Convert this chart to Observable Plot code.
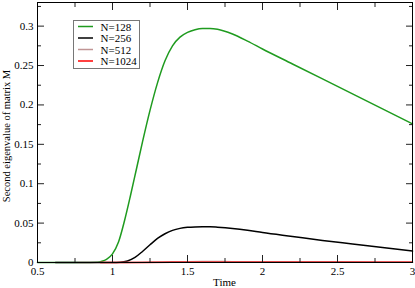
<!DOCTYPE html>
<html><head><meta charset="utf-8">
<script src="https://cdn.jsdelivr.net/npm/d3@7"></script>
<script src="https://cdn.jsdelivr.net/npm/@observablehq/plot@0.6"></script>
<style>
body{margin:0;background:#fff}
#chart{position:relative;width:415px;height:288px}
#chart svg, #chart svg text{font-family:"Liberation Serif", serif}
</style>
</head><body><div id="chart"></div>
<script>
// ---- data ----
const seriesNames = ["N=128", "N=256", "N=512", "N=1024"];
const seriesColors = ["#1f9b1f", "#000000", "#c09595", "#ff0000"];

const t128 = [0.5, 0.6, 0.7, 0.8, 0.9, 0.93, 0.96, 1.0, 1.04, 1.08, 1.12, 1.16, 1.2, 1.25, 1.3, 1.35, 1.4, 1.45, 1.5, 1.55, 1.6, 1.65, 1.7, 1.8, 1.9, 2.0, 2.2, 2.4, 2.6, 2.8, 3.0];
const v128 = [0, 0, 0, 0, 0.0003, 0.0015, 0.004, 0.011, 0.026, 0.053, 0.085, 0.119, 0.153, 0.193, 0.228, 0.256, 0.275, 0.286, 0.292, 0.2955, 0.297, 0.297, 0.296, 0.29, 0.281, 0.271, 0.252, 0.233, 0.214, 0.195, 0.176];

const t256 = [0.62, 0.7, 0.8, 0.9, 1.0, 1.05, 1.1, 1.15, 1.2, 1.25, 1.3, 1.35, 1.4, 1.45, 1.5, 1.55, 1.6, 1.65, 1.7, 1.8, 1.9, 2.0, 2.2, 2.4, 2.6, 2.8, 3.0];
const v256 = [0, 0, 0, 0, 0, 0.0003, 0.002, 0.0065, 0.014, 0.0225, 0.0305, 0.0365, 0.0408, 0.0433, 0.0446, 0.0452, 0.0454, 0.0453, 0.0448, 0.0433, 0.041, 0.038, 0.033, 0.028, 0.0235, 0.019, 0.0145];

const t512 = [0.77, 0.9, 1.0, 1.1, 1.2, 1.3, 1.4, 1.5, 1.6, 1.8, 2.0, 2.5, 3.0];
const v512 = [0, 0, 0, 0.0001, 0.0003, 0.0006, 0.0009, 0.0011, 0.0012, 0.0011, 0.001, 0.0008, 0.0006];

const t1024 = [0.92, 1.0, 1.2, 1.4, 1.6, 1.8, 2.0, 2.5, 3.0];
const v1024 = [0, 0, 0.0001, 0.0002, 0.0003, 0.0003, 0.0003, 0.0002, 0.0002];

const xTicks = [0.5, 1, 1.5, 2, 2.5, 3];
const xTickLabels = ["0.5", "1", "1.5", "2", "2.5", "3"];
const xMinorTicks = [0.75, 1.25, 1.75, 2.25, 2.75];
const yTicks = [0, 0.05, 0.1, 0.15, 0.2, 0.25, 0.3];
const yTickLabels = ["0", "0.05", "0.1", "0.15", "0.2", "0.25", "0.3"];
const yMinorTicks = [0.025, 0.075, 0.125, 0.175, 0.225, 0.275, 0.325];
const xLabel = "Time";
const yLabel = "Second eigenvalue of matrix M";

// ---- build table ----
const allT = [t128, t256, t512, t1024];
const allV = [v128, v256, v512, v1024];
const rows = [];
seriesNames.forEach((s, k) => allT[k].forEach((t, i) => rows.push({series: s, t, v: allV[k][i]})));

const font = "Liberation Serif, serif";
const tickColor = "#222";

const plot = Plot.plot({
  width: 415,
  height: 288,
  marginLeft: 37,
  marginRight: 3,
  marginTop: 2,
  marginBottom: 26,
  style: {fontFamily: font, fontSize: "11px", background: "#fff", color: "#000"},
  x: {domain: [0.5, 3]},
  y: {domain: [0, 0.33]},
  color: {domain: seriesNames, range: seriesColors},
  marks: [
    Plot.line(rows, {x: "t", y: "v", z: "series", stroke: "series", strokeWidth: 1.5, curve: "monotone-x"}),
    // labels
    Plot.axisX(xTicks, {anchor: "bottom", tickSize: 0, tickPadding: 5, tickFormat: d => xTickLabels[xTicks.indexOf(d)], label: null, fill: "#000"}),
    Plot.axisY(yTicks, {anchor: "left", tickSize: 0, tickPadding: 4, tickFormat: d => yTickLabels[yTicks.indexOf(d)], label: null, fill: "#000"}),
    // inward major ticks
    Plot.axisX(xTicks, {anchor: "bottom", tickSize: -7, tickFormat: () => "", label: null, stroke: tickColor}),
    Plot.axisX(xTicks, {anchor: "top", tickSize: -7, tickFormat: () => "", label: null, stroke: tickColor}),
    Plot.axisY(yTicks, {anchor: "left", tickSize: -7, tickFormat: () => "", label: null, stroke: tickColor}),
    Plot.axisY(yTicks, {anchor: "right", tickSize: -7, tickFormat: () => "", label: null, stroke: tickColor}),
    // inward minor ticks
    Plot.axisX(xMinorTicks, {anchor: "bottom", tickSize: -4, tickFormat: () => "", label: null, stroke: tickColor}),
    Plot.axisX(xMinorTicks, {anchor: "top", tickSize: -4, tickFormat: () => "", label: null, stroke: tickColor}),
    Plot.axisY(yMinorTicks, {anchor: "left", tickSize: -4, tickFormat: () => "", label: null, stroke: tickColor}),
    Plot.axisY(yMinorTicks, {anchor: "right", tickSize: -4, tickFormat: () => "", label: null, stroke: tickColor}),
    Plot.frame({stroke: "#000", strokeWidth: 1})
  ]
});
plot.setAttribute("font-family", font);

const svg = d3.select(plot);
// axis titles
svg.append("text")
  .attr("x", (37 + 412) / 2).attr("y", 286)
  .attr("text-anchor", "middle")
  .attr("font-family", font).attr("font-size", 11)
  .text(xLabel);
svg.append("text")
  .attr("transform", "translate(10,136) rotate(-90)")
  .attr("text-anchor", "middle")
  .attr("font-family", font).attr("font-size", 10.5)
  .text(yLabel);

// legend
const lg = svg.append("g").attr("transform", "translate(73,20)");
lg.append("rect").attr("x", 0.5).attr("y", 0.5).attr("width", 66).attr("height", 48)
  .attr("fill", "#fff").attr("stroke", "#777").attr("stroke-width", 1);
seriesNames.forEach((s, i) => {
  const cy = 6.5 + i * 11.5;
  lg.append("line").attr("x1", 5).attr("x2", 20).attr("y1", cy).attr("y2", cy)
    .attr("stroke", seriesColors[i]).attr("stroke-width", 1.5);
  lg.append("text").attr("x", 27.5).attr("y", cy + 4)
    .attr("text-anchor", "start")
    .attr("font-family", font).attr("font-size", 11).attr("fill", "#000")
    .text(s);
});

document.getElementById("chart").appendChild(plot);
</script>
</body></html>
